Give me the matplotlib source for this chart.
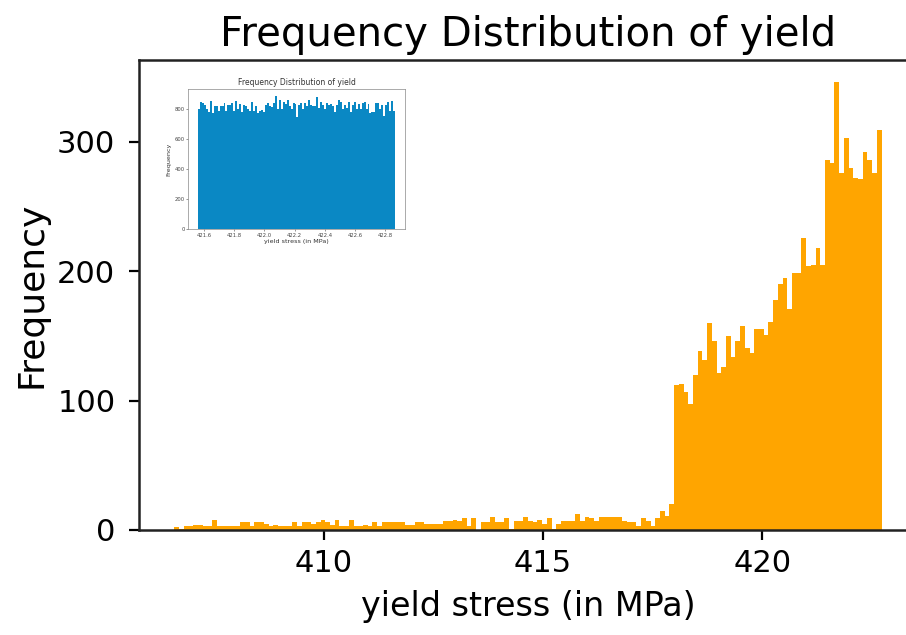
import numpy as np
import matplotlib
matplotlib.use('Agg')
import matplotlib.pyplot as plt

# main histogram: 150 bins of yield stress, counts
x_min, x_max = 406.60, 422.72
counts = [2, 1, 3, 3, 4, 4, 3, 3, 8, 3,
          3, 3, 3, 3, 6, 6, 3, 6, 6, 5,
          3, 4, 3, 3, 3, 6, 3, 6, 6, 5,
          6, 8, 6, 4, 8, 3, 3, 8, 3, 3,
          4, 3, 6, 3, 6, 6, 6, 6, 6, 4,
          4, 6, 6, 5, 5, 5, 5, 7, 7, 8,
          7, 9, 3, 9, 0, 6, 6, 10, 6, 6,
          9, 1, 7, 7, 10, 7, 6, 8, 5, 9,
          1, 5, 7, 7, 7, 12, 7, 10, 9, 7,
          10, 10, 10, 10, 10, 7, 6, 6, 3, 9,
          7, 3, 9, 15, 11, 20, 112, 113, 107, 97,
          120, 138, 131, 160, 146, 121, 126, 150, 134, 146,
          158, 141, 137, 155, 155, 151, 161, 178, 190, 195,
          171, 199, 199, 226, 204, 205, 218, 205, 286, 284,
          346, 276, 303, 280, 272, 271, 292, 286, 276, 309]

# inset histogram (small screenshot in the corner): 100 bins
inset_min, inset_max = 421.56, 422.864
inset_counts = [805, 850, 845, 830, 800, 780, 855, 775, 825, 820,
                790, 820, 825, 840, 790, 830, 830, 845, 790, 855,
                800, 835, 780, 830, 825, 800, 790, 850, 790, 820,
                775, 790, 795, 780, 830, 845, 820, 815, 845, 890,
                800, 860, 800, 850, 835, 860, 820, 800, 840, 835,
                750, 830, 845, 800, 840, 820, 860, 830, 825, 820,
                880, 810, 850, 830, 800, 840, 830, 835, 820, 780,
                830, 860, 850, 800, 830, 810, 850, 785, 830, 850,
                800, 835, 800, 840, 850, 800, 835, 775, 780, 780,
                840, 845, 800, 830, 755, 830, 850, 790, 855, 790]
inset_xticks = [421.6, 421.8, 422.0, 422.2, 422.4, 422.6, 422.8]
inset_yticks = [0, 200, 400, 600, 800]

edges = np.linspace(x_min, x_max, len(counts) + 1)
centers = (edges[:-1] + edges[1:]) / 2

fig = plt.figure(figsize=(9.06, 6.35), dpi=100)
ax = fig.add_axes([0.1534, 0.1654, 0.8587, 0.7402])
ax.hist(centers, bins=edges, weights=counts, color='orange')

ax.set_title('Frequency Distribution of yield', fontsize=29, pad=10)
ax.set_xlabel('yield stress (in MPa)', fontsize=24, labelpad=8)
ax.set_ylabel('Frequency', fontsize=26, labelpad=6)
ax.set_xticks([410, 415, 420])
ax.set_yticks([0, 100, 200, 300])
ax.tick_params(labelsize=22, length=7, width=1.6, colors='black')
ax.tick_params(axis='y', pad=10)
ax.tick_params(axis='x', pad=7)
for s in ax.spines.values():
    s.set_linewidth(1.8)
    s.set_color('#222222')

# inset
iedges = np.linspace(inset_min, inset_max, len(inset_counts) + 1)
icenters = (iedges[:-1] + iedges[1:]) / 2
ins = fig.add_axes([0.2075, 0.639, 0.2395, 0.2205])
ins.hist(icenters, bins=iedges, weights=inset_counts, color='#0a88c4')
ins.set_title('Frequency Distribution of yield', fontsize=5.5, pad=3, color='#333333')
ins.set_xlabel('yield stress (in MPa)', fontsize=4.6, labelpad=1, color='#333333')
ins.set_ylabel('Frequency', fontsize=4.6, labelpad=2, color='#333333')
ins.set_xticks(inset_xticks)
ins.set_yticks(inset_yticks)
ins.tick_params(labelsize=3.8, length=1.5, width=0.4, pad=1, colors='#444444')
for s in ins.spines.values():
    s.set_linewidth(0.5)
    s.set_color('#888888')

fig.savefig('out.png', dpi=100)
